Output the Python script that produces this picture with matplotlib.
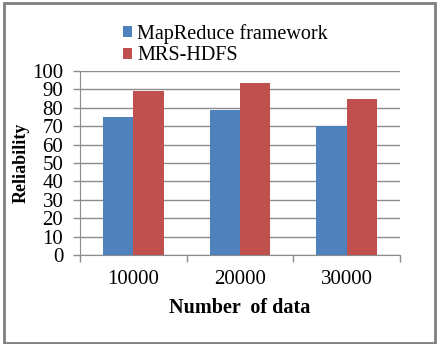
import matplotlib
matplotlib.use("Agg")
import matplotlib.pyplot as plt
from matplotlib.patches import Rectangle
import numpy as np

categories = ["10000", "20000", "30000"]
series_names = ["MapReduce framework", "MRS-HDFS"]
mapreduce = [75, 79, 70]
mrs_hdfs = [89, 93.5, 85]
yticks = [0, 10, 20, 30, 40, 50, 60, 70, 80, 90, 100]

plt.rcParams['font.family'] = ['Liberation Serif', 'DejaVu Serif']

fig = plt.figure(figsize=(4.43, 3.44), dpi=100)
ax = fig.add_axes([80/443, 1-255/344, 320/443, 184/344])

x = np.arange(len(categories))
w = 0.285
b1 = ax.bar(x - w/2, mapreduce, w, color="#4F81BD", label=series_names[0], zorder=3)
b2 = ax.bar(x + w/2, mrs_hdfs, w, color="#C0504D", label=series_names[1], zorder=3)

ax.set_xlim(-0.5, len(categories) - 0.5)
ax.set_ylim(0, 100)
ax.set_yticks(yticks)
ax.set_yticklabels([str(v) for v in yticks], fontsize=15)
ax.yaxis.grid(True, color="#8c8c8c", linewidth=1, zorder=0)
ax.set_axisbelow(True)

ax.set_xticks(x)
ax.set_xticklabels(categories, fontsize=15)
ax.set_xticks(np.arange(-0.5, len(categories)), minor=True)
ax.tick_params(axis='x', which='major', length=0, pad=11)
ax.tick_params(axis='x', which='minor', length=5, color="#8c8c8c", width=1, direction='out')
ax.tick_params(axis='y', length=5, color="#8c8c8c", width=1, pad=7)

for s in ["top", "right"]:
    ax.spines[s].set_visible(False)
ax.spines["left"].set_color("#8c8c8c")
ax.spines["bottom"].set_color("#8c8c8c")

ax.set_ylabel("Reliability", fontsize=13, fontweight="bold", labelpad=2)
ax.set_xlabel("Number  of data", fontsize=14.5, fontweight="bold", labelpad=6)

fig.legend(handles=[b1, b2], loc="upper left", bbox_to_anchor=(123/443, 1-24/344),
           frameon=False, fontsize=14.5, handlelength=0.45, handleheight=0.45,
           handletextpad=0.25, labelspacing=0.12, borderpad=0, borderaxespad=0)

fig.patches.append(Rectangle((4/443, 1/344), 431/443, 340/344, transform=fig.transFigure,
                             fill=False, edgecolor="#7f7f7f", linewidth=2))

fig.savefig("out.png", dpi=100)
